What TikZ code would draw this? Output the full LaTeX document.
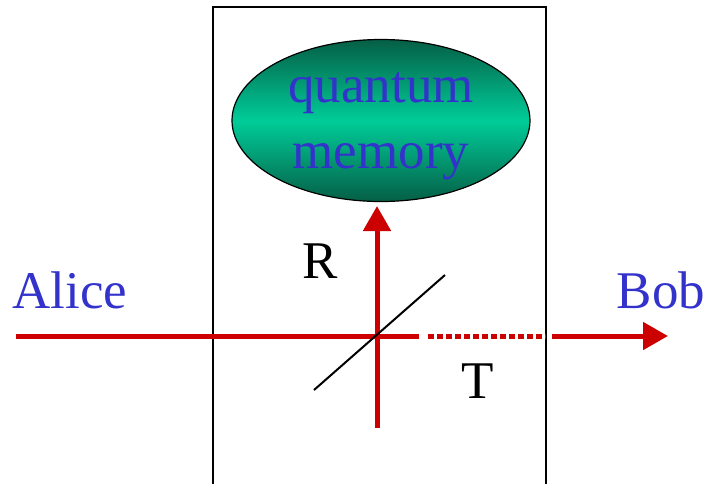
\documentclass[tikz,border=0pt]{standalone}
\usepackage{fontspec}
\setmainfont{Liberation Serif}
\usetikzlibrary{arrows.meta,shapes.geometric}
\definecolor{beamred}{RGB}{204,0,0}
\definecolor{nameblue}{RGB}{51,51,204}
\definecolor{memdark}{RGB}{5,95,70}
\definecolor{memlight}{RGB}{0,204,153}
\begin{document}
\begin{tikzpicture}[x=1pt,y=-1pt,
  beam/.style={draw=beamred,line width=5pt},
  beamtip/.style={-{Triangle[length=25pt,width=27pt]}},
  big/.style={font=\fontsize{53}{66}\selectfont,inner sep=0pt},
  lbl/.style={big,anchor=base,text=black},
  who/.style={big,anchor=base,text=nameblue}]
\useasboundingbox (0,0) rectangle (713,483);
% box
\coordinate (bl) at (213,490);
\coordinate (tl) at (213,7);
\coordinate (tr) at (546,7);
\coordinate (br) at (546,490);
\draw[line width=1.5pt] (bl) -- (tl) -- (tr) -- (br);
% memory
\node[ellipse,draw=black,line width=1.2pt,minimum width=298pt,minimum height=162pt,
  inner sep=0pt,top color=memdark,bottom color=memdark,middle color=memlight,
  shading angle=0] (mem) at (381,120.5) {};
\node[big,align=center,text=nameblue] (memtext) at (381,126) {quantum\\memory};
% beam path coordinates
\coordinate (start) at (16,336);
\coordinate (bs) at (377,336);
\coordinate (hend) at (419,336);
\coordinate (dstart) at (428,336);
\coordinate (dend) at (546,336);
\coordinate (astart) at (552,336);
\coordinate (aend) at (668,336);
\coordinate (vbot) at (377,428);
\coordinate (vtop) at (377,206);
\coordinate (s1) at (314,390);
\coordinate (s2) at (445,275);
% beams
\draw[beam] (start) -- (hend);
\draw[beam,dash pattern=on 6pt off 3pt] (dstart) -- (dend);
\draw[beam,beamtip] (astart) -- (aend);
\draw[beam,beamtip] (vbot) -- (vtop);
% beam splitter
\draw[line width=2pt] (s1) -- (s2);
% labels
\node[lbl] (R) at (320,278) {R};
\node[lbl] (T) at (478,398) {T};
\node[who] (alice) at (70,308) {Alice};
\node[who] (bob) at (661,308) {Bob};
\end{tikzpicture}
\end{document}
